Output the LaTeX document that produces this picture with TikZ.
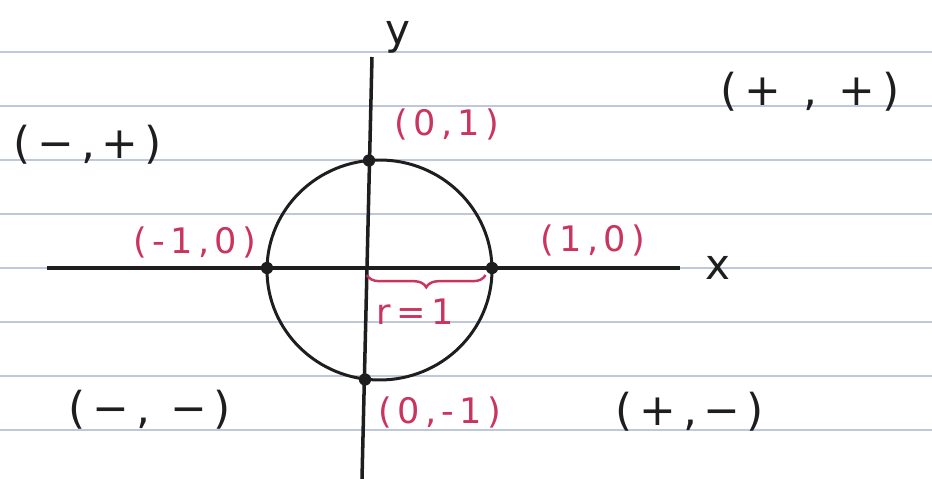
\documentclass[tikz,border=0pt]{standalone}
\usepackage{xcolor}
\usepackage{fontspec}
\usepackage{tikz}
\usetikzlibrary{decorations.pathreplacing}
\newfontfamily\handfont[LetterSpace=15]{DejaVu Sans}
\definecolor{inkc}{HTML}{1E1E1E}
\definecolor{redc}{HTML}{C9355F}
\definecolor{rulec}{HTML}{BFC8DA}
\tikzset{
  rule/.style={draw=rulec, line width=0.6pt},
  axis/.style={draw=inkc, line width=2pt},
  ring/.style={draw=inkc, line width=1.7pt},
  pt/.style={circle, fill=inkc, inner sep=0pt, minimum size=7pt},
  quad/.style={text=inkc, font=\handfont\fontsize{25}{29}\selectfont, inner sep=1pt},
  coord/.style={text=redc, font=\handfont\fontsize{20}{24}\selectfont, inner sep=1pt},
  axlbl/.style={text=inkc, font=\handfont\fontsize{24}{28}\selectfont, inner sep=1pt},
  brc/.style={draw=redc, line width=1.4pt, decorate,
              decoration={brace, mirror, amplitude=7pt, raise=4pt}},
}
\begin{document}
\begin{tikzpicture}
  \useasboundingbox (0,0) rectangle (18.64,9.58);
  \foreach \y in {8.54,7.46,6.38,5.30,4.22,3.14,2.06,0.98}
    \draw[rule] (0,\y) -- (18.64,\y);
  \coordinate (xl) at (0.94,4.22);
  \coordinate (xr) at (13.6,4.22);
  \coordinate (yt) at (7.44,8.44);
  \coordinate (yb) at (7.24,0);
  \coordinate (o) at (7.34,4.22);
  \coordinate (ctr) at (7.59,4.18);
  \draw[axis] (xl) -- (xr);
  \draw[axis] (yb) -- (yt);
  \draw[ring] (ctr) ellipse [x radius=2.25, y radius=2.2];
  \node[pt] (pw) at (5.34,4.22) {};
  \node[pt] (pe) at (9.84,4.22) {};
  \node[pt] (pn) at (7.38,6.37) {};
  \node[pt] (ps) at (7.30,1.99) {};
  \draw[brc] (o) -- (pe);
  \node[axlbl] (ylbl) at (7.96,8.84) {y};
  \node[axlbl] (xlbl) at (14.36,4.22) {x};
  \node[coord] (lpn) at (8.94,7.10) {(0,1)};
  \node[coord] (lpw) at (3.90,4.74) {(-1,0)};
  \node[coord] (lpe) at (11.86,4.78) {(1,0)};
  \node[coord] (lps) at (8.80,1.34) {(0,-1)};
  \node[coord] (rad) at (8.30,3.34) {r=1};
  \node[quad] (q2) at (1.76,6.68) {(−,+)};
  \node[quad] (q1) at (16.20,7.74) {(+\hspace{0.5em},\hspace{0.5em}+)};
  \node[quad] (q3) at (3.00,1.38) {(−, −)};
  \node[quad] (q4) at (13.80,1.34) {(+,−)};
\end{tikzpicture}
\end{document}
